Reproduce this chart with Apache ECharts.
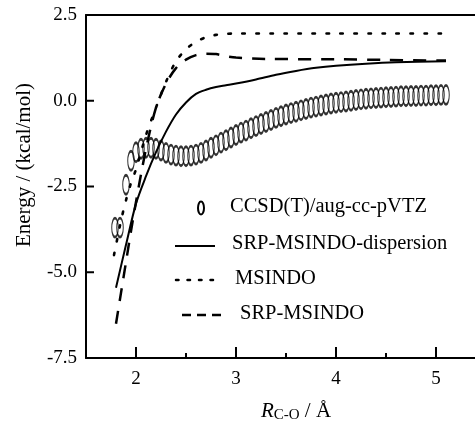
<!DOCTYPE html>
<html><head><meta charset="utf-8">
<script src="https://cdn.jsdelivr.net/npm/echarts@6/dist/echarts.min.js"></script>
<style>html,body{margin:0;padding:0;background:#fff}#c{width:475px;height:421px}</style>
</head><body><div id="c"></div>
<script>
// ---- data ----
const ccsdX = [1.79,1.84,1.90,1.95,2.00,2.05,2.10,2.15,2.20,2.25,2.30,2.35,2.40,2.45,2.50,2.55,2.60,2.65,2.70,2.75,2.80,2.85,2.90,2.95,3.00,3.05,3.10,3.15,3.20,3.25,3.30,3.35,3.40,3.45,3.50,3.55,3.60,3.65,3.70,3.75,3.80,3.85,3.90,3.95,4.00,4.05,4.10,4.15,4.20,4.25,4.30,4.35,4.40,4.45,4.50,4.55,4.60,4.65,4.70,4.75,4.80,4.85,4.90,4.95,5.00,5.05,5.10];
const ccsdY = [-3.7,-3.7,-2.45,-1.75,-1.5,-1.4,-1.37,-1.37,-1.4,-1.45,-1.52,-1.57,-1.6,-1.62,-1.62,-1.6,-1.57,-1.52,-1.45,-1.37,-1.3,-1.22,-1.15,-1.07,-1.0,-0.93,-0.87,-0.8,-0.74,-0.68,-0.62,-0.56,-0.5,-0.45,-0.4,-0.36,-0.32,-0.28,-0.24,-0.2,-0.17,-0.14,-0.11,-0.08,-0.06,-0.04,-0.02,0.0,0.02,0.04,0.06,0.07,0.08,0.09,0.1,0.11,0.12,0.13,0.13,0.14,0.14,0.15,0.15,0.16,0.16,0.17,0.17];

const dispX = [1.80,1.90,2.00,2.10,2.20,2.30,2.40,2.50,2.60,2.70,2.80,2.90,3.00,3.20,3.40,3.60,3.80,4.00,4.30,4.60,5.10];
const dispY = [-5.45,-4.2,-3.0,-2.2,-1.5,-0.9,-0.4,-0.05,0.2,0.32,0.4,0.45,0.5,0.62,0.76,0.87,0.96,1.02,1.08,1.12,1.15];

const msindoX = [1.78,1.85,1.90,1.95,2.00,2.10,2.20,2.30,2.40,2.50,2.60,2.70,2.80,2.90,3.00,3.50,4.00,4.50,5.05];
const msindoY = [-4.5,-3.5,-2.9,-2.4,-2.0,-1.0,-0.2,0.55,1.15,1.5,1.72,1.85,1.92,1.95,1.96,1.96,1.96,1.96,1.96];

const srpX = [1.80,1.85,1.90,1.95,2.00,2.10,2.20,2.30,2.40,2.50,2.60,2.70,2.80,2.90,3.00,3.30,4.00,4.50,5.10];
const srpY = [-6.5,-5.6,-4.7,-3.8,-2.95,-1.4,-0.2,0.5,0.95,1.2,1.33,1.37,1.36,1.3,1.26,1.22,1.21,1.19,1.17];

const xMajorTicks = [2,3,4,5];
const xMinorTicks = [2.5,3.5,4.5];
const yTicks = [-7.5,-5.0,-2.5,0.0,2.5];
const legendNames = ['CCSD(T)/aug-cc-pVTZ','SRP-MSINDO-dispersion','MSINDO','SRP-MSINDO'];

const zip = (xs, ys) => xs.map((x, i) => [x, ys[i]]);
const FONT = 'Liberation Serif';
const FS = 19;
const LFS = 20.5;

const chart = echarts.init(document.getElementById('c'), null, {renderer: 'canvas'});
const axisLineStyle = {color: '#000', width: 2};
const ellipsePath = 'path://M5,0 A5,10 0 1 1 5,20 A5,10 0 1 1 5,0 Z';
const X_MIN = 1.5, X_MAX = 5.39, Y_MIN = -7.5, Y_MAX = 2.5;
const lf = LFS + 'px "' + FONT + '"';
const noZero = {onZero: true, onZeroAxisIndex: 1};

const legendGraphics = [
  {type: 'ellipse', shape: {cx: 201, cy: 208, rx: 3, ry: 6.5}, style: {fill: 'none', stroke: '#000', lineWidth: 2}},
  {type: 'text', left: 230, top: 196, style: {text: legendNames[0], font: lf, fill: '#000'}},
  {type: 'line', shape: {x1: 175, y1: 246, x2: 215, y2: 246}, style: {stroke: '#000', lineWidth: 2}},
  {type: 'text', left: 232, top: 233, style: {text: legendNames[1], font: lf, fill: '#000'}},
  {type: 'line', shape: {x1: 176, y1: 280, x2: 214, y2: 280}, style: {stroke: '#000', lineWidth: 2.5, lineDash: [2.5, 9], lineCap: 'round'}},
  {type: 'text', left: 235, top: 268, style: {text: legendNames[2], font: lf, fill: '#000'}},
  {type: 'line', shape: {x1: 182, y1: 315, x2: 222, y2: 315}, style: {stroke: '#000', lineWidth: 2.5, lineDash: [9, 6]}},
  {type: 'text', left: 240, top: 303, style: {text: legendNames[3], font: lf, fill: '#000'}},
  {type: 'text', x: 24, y: 165, rotation: Math.PI / 2, style: {text: 'Energy / (kcal/mol)', font: '21px "' + FONT + '"', fill: '#000', align: 'center', verticalAlign: 'middle'}},
  {type: 'text', x: 296, y: 411, style: {
    text: '{i|R}{s|C-O}{n| / Å}', align: 'center', verticalAlign: 'middle',
    rich: {i: {fontFamily: FONT, fontSize: 21, fontStyle: 'italic', fill: '#000'},
           s: {fontFamily: FONT, fontSize: 15, fill: '#000', padding: [9, 0, 0, 0]},
           n: {fontFamily: FONT, fontSize: 21, fill: '#000'}}}}
];

chart.setOption({
  animation: false,
  backgroundColor: '#fff',
  grid: {left: 86, right: 0, top: 15, bottom: 63, containLabel: false},
  xAxis: [
    {type: 'value', min: X_MIN, max: X_MAX, position: 'bottom',
     axisLine: Object.assign({show: true, lineStyle: axisLineStyle}, noZero),
     axisTick: {show: false},
     axisLabel: {show: true, margin: 12, color: '#000', fontFamily: FONT, fontSize: FS, customValues: xMajorTicks, formatter: v => String(v)},
     splitLine: {show: false}},
    {type: 'value', min: X_MIN, max: X_MAX, position: 'top',
     axisLine: Object.assign({show: true, lineStyle: axisLineStyle}, noZero),
     axisTick: {show: false}, axisLabel: {show: false}, splitLine: {show: false}}
  ],
  yAxis: [
    {type: 'value', min: Y_MIN, max: Y_MAX, interval: 2.5, position: 'left',
     axisLine: {show: true, lineStyle: axisLineStyle},
     axisTick: {show: false},
     axisLabel: {margin: 9, color: '#000', fontFamily: FONT, fontSize: FS, formatter: v => v.toFixed(1)},
     splitLine: {show: false}},
    {type: 'value', min: 1, max: 2, show: false}
  ],
  series: [
    {name: legendNames[1], type: 'line', data: zip(dispX, dispY), smooth: 0.3, symbol: 'none',
     lineStyle: {color: '#000', width: 2}},
    {name: legendNames[2], type: 'line', data: zip(msindoX, msindoY), smooth: 0.3, symbol: 'none',
     lineStyle: {color: '#000', width: 2.6, type: [2.5, 11.5], cap: 'round'}},
    {name: legendNames[3], type: 'line', data: zip(srpX, srpY), smooth: 0.3, symbol: 'none',
     lineStyle: {color: '#000', width: 2.5, type: [13, 10]}},
    {name: legendNames[0], type: 'scatter', data: zip(ccsdX, ccsdY), symbol: ellipsePath, symbolSize: [6.5, 19],
     itemStyle: {color: 'transparent', borderColor: '#000', borderWidth: 1.7}}
  ],
  graphic: legendGraphics
});

// axis tick marks (inward), placed through the chart's own coordinate conversion
const tickGraphics = [];
const toPx = (x, y) => chart.convertToPixel({xAxisIndex: 0, yAxisIndex: 0}, [x, y]);
xMajorTicks.forEach(v => {
  const p = toPx(v, Y_MIN);
  tickGraphics.push({type: 'line', shape: {x1: p[0], y1: p[1], x2: p[0], y2: p[1] - 11}, style: {stroke: '#000', lineWidth: 2}});
});
xMinorTicks.forEach(v => {
  const p = toPx(v, Y_MIN);
  tickGraphics.push({type: 'line', shape: {x1: p[0], y1: p[1], x2: p[0], y2: p[1] - 5}, style: {stroke: '#000', lineWidth: 2}});
});
yTicks.forEach(v => {
  const p = toPx(X_MIN, v);
  tickGraphics.push({type: 'line', shape: {x1: p[0], y1: p[1], x2: p[0] + 8, y2: p[1]}, style: {stroke: '#000', lineWidth: 2}});
});
chart.setOption({graphic: legendGraphics.concat(tickGraphics)}, {replaceMerge: ['graphic']});
</script></body></html>
